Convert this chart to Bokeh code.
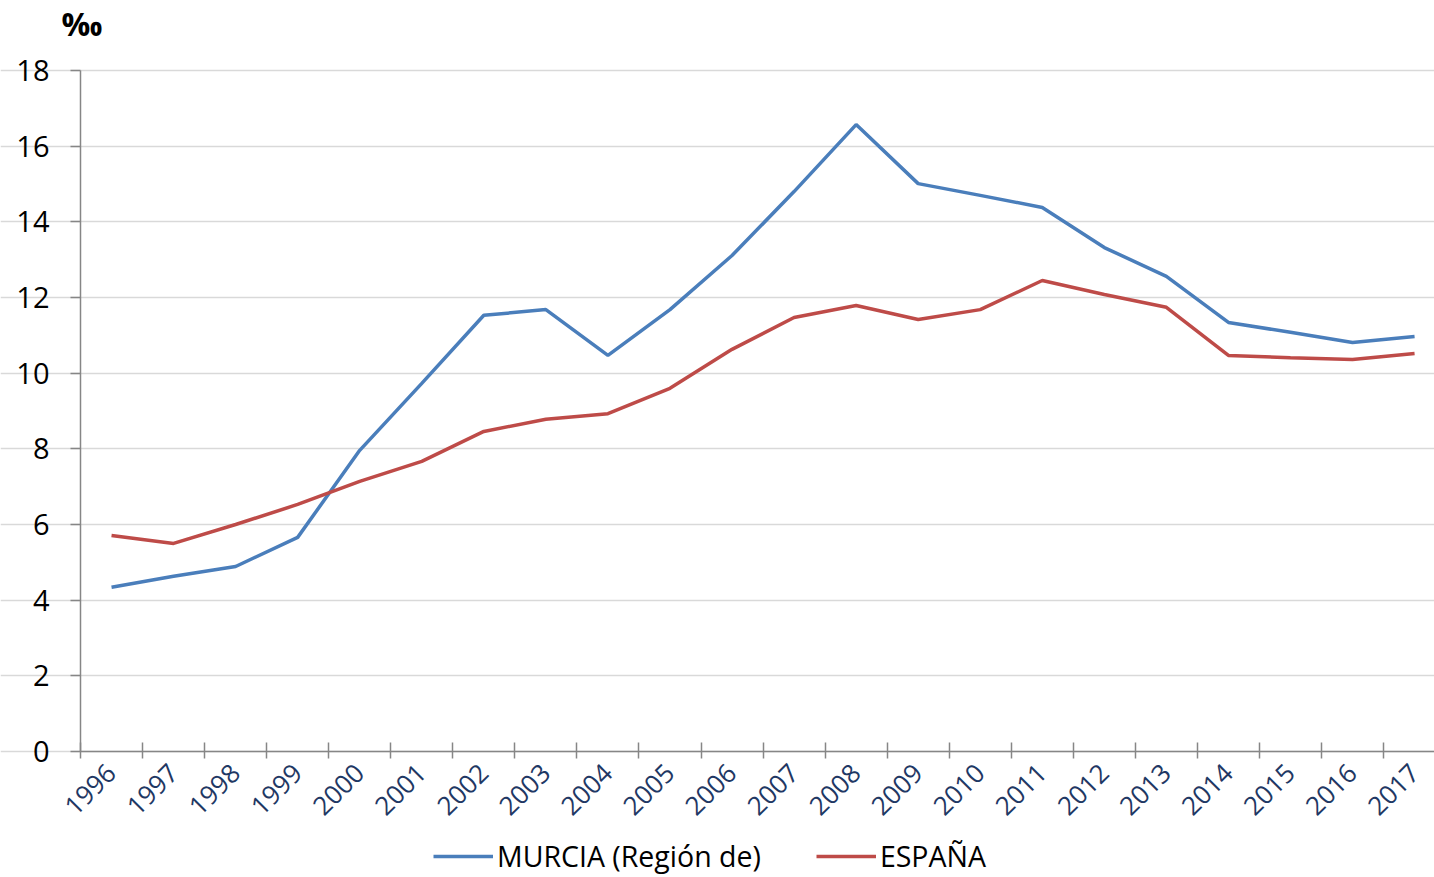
from bokeh.plotting import figure
from bokeh.models import Range1d, FixedTicker, Legend, LegendItem, CustomJSTickFormatter, Label
from bokeh.embed import file_html
from bokeh.resources import INLINE
import math

years = list(range(1996, 2018))
murcia = [4.34, 4.63, 4.89, 5.66, 7.96, 9.73, 11.53, 11.68, 10.47, 11.68, 13.11,
          14.80, 16.57, 15.01, 14.70, 14.38, 13.32, 12.56, 11.34, 11.08, 10.81, 10.97]
espana = [5.71, 5.50, 6.00, 6.53, 7.14, 7.67, 8.46, 8.78, 8.93, 9.60, 10.63,
          11.47, 11.79, 11.42, 11.68, 12.45, 12.08, 11.74, 10.47, 10.41, 10.36, 10.52]
y_ticks = [0, 2, 4, 6, 8, 10, 12, 14, 16, 18]
series_names = ["MURCIA (Región de)", "ESPAÑA"]
unit_label = "‰"

FONT = "Open Sans"

W, H = 1434, 877
FL, FT, FB = 80, 70, 751          # plot area left / top / bottom in pixels
PX_X = 62.05                      # pixels per category
PX_Y = (FB - FT) / 18.0
x0 = 1995.5 - FL / PX_X
x1 = x0 + W / PX_X
y0 = -(H - FB) / PX_Y
y1 = 18 + FT / PX_Y

p = figure(frame_width=W, frame_height=H, output_backend="svg", toolbar_location=None,
           x_range=Range1d(x0, x1), y_range=Range1d(y0, y1),
           min_border=0)
p.outline_line_color = None
p.background_fill_color = "white"
p.border_fill_color = "white"

l1 = p.line(years, murcia, line_color="#4a7ebb", line_width=3.5)
l2 = p.line(years, espana, line_color="#be4b48", line_width=3.5)

# y axis
ya = p.yaxis[0]
ya.fixed_location = 1995.5
ya.bounds = (0, 18)
ya.ticker = FixedTicker(ticks=y_ticks)
ya.axis_line_color = "#868686"
ya.axis_line_width = 1.5
ya.major_tick_line_color = "#868686"
ya.major_tick_line_width = 1.5
ya.major_tick_out = 10
ya.major_tick_in = 0
ya.minor_tick_line_color = None
ya.major_label_text_font = FONT
ya.major_label_text_font_size = "29px"
ya.major_label_text_color = "black"
ya.major_label_standoff = 21

# x axis
xa = p.xaxis[0]
xa.fixed_location = 0
xa.bounds = (1995.5, x1)
xa.ticker = FixedTicker(ticks=years, minor_ticks=[y - 0.5 for y in years])
xa.axis_line_color = "#868686"
xa.axis_line_width = 1.5
xa.major_tick_line_color = None
xa.major_tick_out = 0
xa.major_tick_in = 0
xa.minor_tick_line_color = "#868686"
xa.minor_tick_line_width = 1.5
xa.minor_tick_out = 7
xa.minor_tick_in = 9
xa.major_label_orientation = math.pi / 4
xa.major_label_text_font = FONT
xa.major_label_text_font_size = "26px"
xa.major_label_text_color = "#1f3864"
xa.major_label_standoff = 10
xa.formatter = CustomJSTickFormatter(code="return tick.toFixed(0);")

p.xgrid.grid_line_color = None
p.ygrid.ticker = FixedTicker(ticks=y_ticks)
p.ygrid.bounds = (1995.5, x1)
p.ygrid.grid_line_color = "#d9d9d9"
p.ygrid.grid_line_width = 1.5

title = Label(x=61, y=H - 1, x_units="screen", y_units="screen", text=unit_label,
              text_font=FONT, text_font_size="32px", text_font_style="bold",
              text_color="black", text_baseline="top")
p.add_layout(title)

legend = Legend(items=[LegendItem(label=series_names[0], renderers=[l1]),
                       LegendItem(label=series_names[1], renderers=[l2])],
                orientation="horizontal", location=(433, 2),
                label_text_font=FONT, label_text_font_size="28.5px",
                label_text_color="black", glyph_width=60, glyph_height=30,
                label_height=30, label_standoff=4, spacing=55, padding=0, margin=0,
                border_line_color=None, background_fill_alpha=0)
p.add_layout(legend, "center")

open("out.html", "w").write(file_html(p, INLINE))
